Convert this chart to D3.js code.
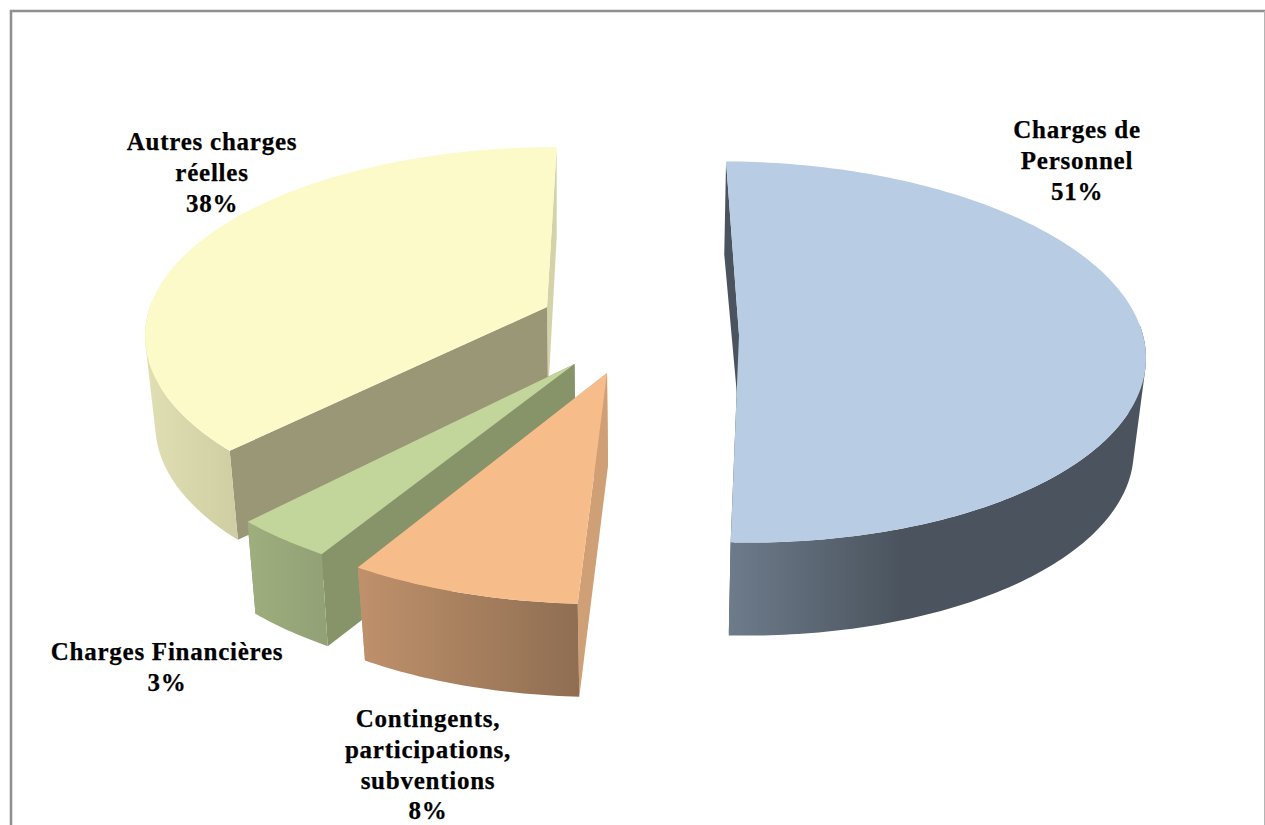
<!DOCTYPE html>
<html lang="fr">
<head>
<meta charset="utf-8">
<title>Répartition des charges</title>
<script src="https://cdn.jsdelivr.net/npm/d3@7/dist/d3.min.js"></script>
<style>
  html, body { margin: 0; padding: 0; background: #fff; overflow: hidden; }
  svg { display: block; }
  text { font-family: "Liberation Serif", serif; font-weight: 700; fill: #000; stroke: #000; stroke-width: 0.25; text-anchor: middle; letter-spacing: 0.75px; }
</style>
</head>
<body>
<svg id="chart" width="1265" height="825"></svg>
<script>
// Budget shares, in percent
const categories = ["Charges de Personnel", "Contingents, participations, subventions", "Charges Financières", "Autres charges réelles"];
const shares = [51, 8, 3, 38];
const labelLines = [["Charges de", "Personnel"], ["Contingents,", "participations,", "subventions"], ["Charges Financières"], ["Autres charges", "réelles"]];

// Face colours of each wedge
const topColors = ["#b8cce4", "#f6bd8b", "#c2d59b", "#fbfac8"];
const startCutColors = ["#4a535e", "#cf9f75", "#87946a", "#999776"];
const endCutColors = ["#4a535e", "#cf9f75", "#87946a", "#d3d2a8"];
const wallStops = [
  [[0, "#6d7b8b"], [0.42, "#4b545e"], [1, "#4b545e"]],
  [[0, "#bf916b"], [1, "#8f6e52"]],
  [[0, "#9fae7d"], [1, "#92a176"]],
  [[0, "#e0deb3"], [1, "#cfcea2"]]
];

// Projection of each exploded wedge: apex, rim ellipse, and how the pie angle
// is foreshortened by the perspective view
const wedgeViews = [
  { apex: [739, 335], centre: [735, 352], rx: 411, ry: 190.5, skew: 0.015, phi0: -1.25, stretch: 0.9905, depth: 93, baseDx: -2, wall: [729, 1135] },
  { apex: [607, 373], centre: [600, 413], rx: 412, ry: 191, skew: 0, phi0: 183.1, stretch: 1.142, depth: 93, baseDx: 1, wall: [358, 579] },
  { apex: [574.5, 364], centre: [565, 400], rx: 412, ry: 191, skew: 0, phi0: 216.2, stretch: 1.315, depth: 92, baseDx: 0, wall: [247, 328] },
  { apex: [547, 307], centre: [557, 336], rx: 412, ry: 189, skew: 0, phi0: 232.6, stretch: 0.931, depth: 89, baseDx: 0, wall: [147, 238] }
];
const baseRimScale = 0.975;

// Label anchors: centre x and first baseline
const labelAnchors = [[1077, 138], [428, 727], [167, 660], [212, 150]];
const labelLeading = 30.8;

const svg = d3.select("#chart");
const defs = svg.append("defs");

// Frame around the chart area
svg.append("path")
  .attr("d", "M11,825V11H1265")
  .attr("fill", "none")
  .attr("stroke", "#8f8f8f")
  .attr("stroke-width", 2.6);
svg.append("line")
  .attr("x1", 1264.5).attr("x2", 1264.5).attr("y1", 11).attr("y2", 825)
  .attr("stroke", "#b4b4b4");

const startDeg = -1.7;
const toRad = Math.PI / 180;
const arcs = d3.pie()
  .sort(null)
  .startAngle(startDeg * toRad)
  .endAngle((startDeg + 360) * toRad)(shares);

const line = d3.line();

function rimPoint(view, phiDeg, base) {
  const phi = phiDeg * toRad;
  const scale = base ? baseRimScale : 1;
  const dx = view.rx * scale * Math.sin(phi);
  return [
    view.centre[0] + (base ? view.baseDx : 0) + dx,
    view.centre[1] + (base ? view.depth : 0) - view.ry * Math.cos(phi) + view.skew * dx
  ];
}

function rimPath(view, phiA, phiB, base) {
  const n = Math.max(2, Math.ceil(Math.abs(phiB - phiA)));
  return d3.range(n + 1).map(i => rimPoint(view, phiA + (phiB - phiA) * i / n, base));
}

// The wall seen from above: one quad per degree on the near half of the rim,
// all wound the same way so their union fills up to the silhouette
function wallPath(view, phiA, phiB) {
  const from = Math.max(phiA, 80), to = Math.min(phiB, 280);
  const n = Math.ceil(to - from);
  let d = "";
  for (let k = 0; k < n; k++) {
    const a = from + (to - from) * k / n, b = from + (to - from) * (k + 1) / n;
    const quad = [rimPoint(view, a, false), rimPoint(view, b, false), rimPoint(view, b, true), rimPoint(view, a, true)];
    if (d3.polygonArea(quad) < 0) quad.reverse();
    d += line(quad) + "Z";
  }
  return d;
}

const baseApex = view => [view.apex[0] + 1, view.apex[1] + view.depth];

// Paint back to front: Autres charges first, the others over it
const paintOrder = [3, 2, 1, 0];

paintOrder.forEach(i => {
  const arc = arcs[i];
  const view = wedgeViews[i];
  const phiA = view.phi0;
  const phiB = view.phi0 + (arc.endAngle - arc.startAngle) / toRad * view.stretch;
  const g = svg.append("g").attr("class", "wedge").attr("data-name", categories[i]);

  const gradientId = "wall-" + i;
  const gradient = defs.append("linearGradient")
    .attr("id", gradientId)
    .attr("gradientUnits", "userSpaceOnUse")
    .attr("x1", view.wall[0]).attr("x2", view.wall[1])
    .attr("y1", 0).attr("y2", 0);
  gradient.selectAll("stop").data(wallStops[i]).join("stop")
    .attr("offset", d => d[0])
    .attr("stop-color", d => d[1]);

  const topStart = rimPoint(view, phiA, false), baseStart = rimPoint(view, phiA, true);
  const topEnd = rimPoint(view, phiB, false), baseEnd = rimPoint(view, phiB, true);

  // Cut faces
  g.append("path")
    .attr("d", line([view.apex, topEnd, baseEnd, baseApex(view)]) + "Z")
    .attr("fill", endCutColors[i]);
  g.append("path")
    .attr("d", line([view.apex, topStart, baseStart, baseApex(view)]) + "Z")
    .attr("fill", startCutColors[i]);

  // Outer wall
  g.append("path")
    .attr("d", wallPath(view, phiA, phiB))
    .attr("fill", `url(#${gradientId})`);

  // Top face
  const topOutline = [view.apex].concat(rimPath(view, phiA, phiB, false));
  g.append("path")
    .attr("d", line(topOutline) + "Z")
    .attr("fill", topColors[i]);
});

// Category labels with their share
const labels = svg.append("g").attr("class", "labels")
  .selectAll("text")
  .data(shares.map((v, i) => ({ lines: labelLines[i].concat(v + "%"), anchor: labelAnchors[i] })))
  .join("text")
  .attr("font-size", 25)
  .attr("x", d => d.anchor[0])
  .attr("y", d => d.anchor[1]);

labels.selectAll("tspan")
  .data(d => d.lines.map((t, k) => ({ t, k, x: d.anchor[0] })))
  .join("tspan")
  .attr("x", d => d.x)
  .attr("dy", d => d.k === 0 ? 0 : labelLeading)
  .text(d => d.t);
</script>
</body>
</html>
